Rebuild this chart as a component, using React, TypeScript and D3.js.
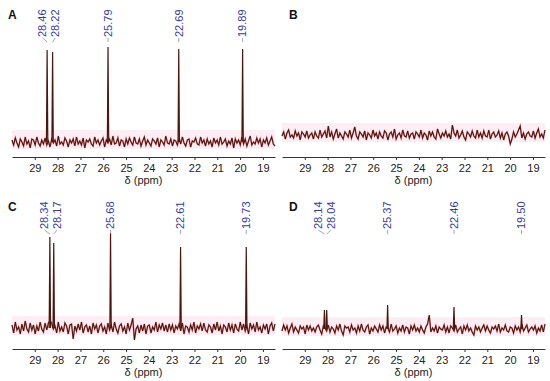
import React, { useEffect, useRef } from 'react';
import * as d3 from 'd3';

const FONT = '"Liberation Sans", Arial, sans-serif';

// chemical shift axis (ppm, reversed as usual for NMR)
const PPM_DOMAIN: [number, number] = [30, 18.47];
const PPM_TICKS = [29, 28, 27, 26, 25, 24, 23, 22, 21, 20, 19];

// labelled peaks: shift (ppm) and apparent height (arbitrary units, 0 = panel A baseline)
const A_SHIFTS = [28.46, 28.22, 25.79, 22.69, 19.89];
const A_HEIGHTS = [92, 90, 95, 93, 93];
const B_SHIFTS: number[] = [];
const B_HEIGHTS: number[] = [];
const C_SHIFTS = [28.34, 28.17, 25.68, 22.61, 19.73];
const C_HEIGHTS = [97, 91, 101, 87, 87];
const D_SHIFTS = [28.14, 28.04, 25.37, 22.46, 19.5];
const D_HEIGHTS = [24, 24, 29, 27, 19];

// baseline level of each spectrum
const BASELINES = [0, 7, 6, 5];

// baseline noise (evenly spaced from 30 to 18.47 ppm)
const A_NOISE = [
  2, -3, 4, -1, -5, 3, 0, -4, 5, -2, 1, -6, 3, 2, -3, 5, -1, -4, 2, -2,
  4, -3, 1, -5, 3, -1, 2, -4, 6, -2, 0, -3, 4, 1, -5, 2, -1, 3, -4, 5,
  -2, 1, -3, 4, -6, 2, 0, 3, -2, -4, 5, -1, 2, -3, 1, 4, -5, 2, -1, 3,
  -3, 6, -2, -1, 4, -4, 2, 1, -5, 3, -2, 4, 0, -3, 5, -1, -2, 3, -4, 1,
  5, -3, 2, -1, -4, 3, 1, -2, 4, -5, 2, 0, -3, 6, -1, -2, 3, -4, 2, 1,
  -3, 4, -2, 5, -1, -4, 2, 3, -5, 1, 0, 4, -2, -3, 5, -1, 2, -4, 3, -2,
  1, -5, 4, -1, 2, -3, 5, -2, 0, 3, -4, 1, -2, 4, -6, 3, -1, 2, -3, 5,
  -2, 3, -4, 1, 6, -3, 0, -2, 4, -1, 3, -5, 2, -1, 4, -3, 1, 5, -2, -4,
];
const B_NOISE = [
  -1, 3, -4, 2, 5, -2, 0, -3, 4, -1, 2, -5, 3, 1, -2, 4, -3, 0, 2, -4,
  3, -1, -3, 5, -2, 1, 4, -3, 9, -2, 3, -4, 1, 6, -3, 2, -1, -4, 3, 1,
  -2, 5, -3, 2, 8, -1, -4, 3, 1, -2, 4, -5, 2, 0, -3, 5, -1, 2, -4, 3,
  -1, -3, 4, 2, -5, 1, 3, -2, 6, -4, 0, 2, -3, 5, -1, -2, 4, -3, 1, 2,
  -4, 3, 1, -2, 5, -3, 2, 0, -5, 4, -1, 3, -2, -4, 6, 1, -3, 2, -1, 4,
  -2, 1, -4, 10, 2, -1, 5, -3, 0, 4, -2, -5, 3, 1, -2, 4, -1, -3, 5, -2,
  2, -3, 4, -1, -2, 5, -4, 1, 3, -2, 0, 4, -3, 2, -5, 1, 3, -1, -9, -4,
  3, -2, 1, 5, 9, -3, 2, -4, 1, 3, -1, -2, 4, -3, 2, 6, -2, 1, -3, 5,
];
const C_NOISE = [
  3, -5, 6, -2, 1, -6, 4, -3, 7, -1, -4, 5, -2, 3, -6, 2, -3, 6, -1, -4,
  5, -2, 5, 7, 5, -1, 2, -5, 6, -3, 1, -4, 5, 2, -6, 3, 4, -11, 2, -3,
  4, -2, 6, -5, 1, 3, -4, 2, -6, 5, -1, 3, -5, 2, 4, -3, 1, -6, 5, -2,
  3, -4, 6, -1, -5, 2, 4, -3, 1, -6, 5, -2, 3, 10, -12, -1, 2, -5, 3, -3,
  4, -6, 2, 3, -5, 1, -2, 6, -4, 3, -1, 5, -3, 3, -4, 4, -2, 3, -5, 2,
  -1, 4, -3, 5, -6, 2, 1, -4, 3, -2, 6, -5, 2, -1, 4, -3, 5, -2, -4, 3,
  1, -5, 4, -2, 6, -3, 2, -6, 3, 1, -4, 5, -2, 3, -5, 4, -1, -3, 6, -2,
  4, -3, 2, -6, 5, -1, 3, -4, 6, -2, 1, -5, 3, -1, 4, -6, 2, 5, -3, 4,
];
const D_NOISE = [
  -2, 4, -1, 3, -4, 1, 5, -3, 2, -1, -4, 3, 0, 2, -5, 4, -1, 3, -2, 1,
  -3, 2, 4, -1, -5, 3, 1, -2, 4, -3, 2, 0, -4, 3, -1, 5, -2, -6, 3, 1,
  2, -3, 4, -1, 1, -4, 3, -2, 5, -1, -3, 2, 4, -5, 1, -2, 3, 0, -3, 4,
  -1, 3, -4, 2, 1, -3, 5, -2, 0, 3, -4, 1, -2, 4, -3, 2, 1, -5, 3, -1,
  4, -2, 1, -3, 3, -1, -4, 2, 5, 14, -3, 1, -2, 3, -4, 2, 0, -1, 4, -3,
  2, -4, 3, 1, -2, 4, -3, 0, 2, -5, 3, -1, 4, -2, 1, -3, -6, 3, -1, 2,
  -3, 1, 4, -2, 3, -1, -4, 2, 0, 3, -2, 5, -3, 1, -1, 4, -2, -3, 2, 1,
  -4, 3, -1, 2, -3, 5, -2, 1, 4, -3, 0, 2, -1, 3, -4, 1, -2, 4, -3, 5,
];

const PANEL_LETTERS = ['A', 'B', 'C', 'D'];

const panels = [
  { letter: PANEL_LETTERS[0], col: 0, row: 0, shifts: A_SHIFTS, heights: A_HEIGHTS, noise: A_NOISE, base: BASELINES[0] },
  { letter: PANEL_LETTERS[1], col: 1, row: 0, shifts: B_SHIFTS, heights: B_HEIGHTS, noise: B_NOISE, base: BASELINES[1] },
  { letter: PANEL_LETTERS[2], col: 0, row: 1, shifts: C_SHIFTS, heights: C_HEIGHTS, noise: C_NOISE, base: BASELINES[2] },
  { letter: PANEL_LETTERS[3], col: 1, row: 1, shifts: D_SHIFTS, heights: D_HEIGHTS, noise: D_NOISE, base: BASELINES[3] },
];

export default function App() {
  const svgRef = useRef<SVGSVGElement>(null);

  useEffect(() => {
    if (!svgRef.current) return;
    const svg = d3.select(svgRef.current);
    svg.selectAll('*').remove();

    const plotW = 263;

    panels.forEach((p) => {
      const x0 = p.col === 0 ? 12 : 282;
      const axisY = p.row === 0 ? 157 : 349;

      const x = d3.scaleLinear().domain(PPM_DOMAIN).range([x0, x0 + plotW]);
      const y = d3.scaleLinear().domain([0, 100]).range([axisY - 15, axisY - 115]);
      const g = svg.append('g');

      // faint pink band behind the baseline
      g.append('rect')
        .attr('x', x0)
        .attr('width', plotW)
        .attr('y', y(p.base + 12))
        .attr('height', y(p.base - 7) - y(p.base + 12))
        .attr('fill', '#fdedf4');

      // noise trace
      const idx = d3.scaleLinear().domain([0, p.noise.length - 1]).range(PPM_DOMAIN);
      const line = d3.line<number>()
        .x((_, i) => x(idx(i)))
        .y((v) => y(p.base + v));

      g.append('path')
        .datum(p.noise)
        .attr('fill', 'none')
        .attr('stroke', '#d3323e')
        .attr('stroke-width', 1.8)
        .attr('opacity', 0.45)
        .attr('d', line);
      g.append('path')
        .datum(p.noise)
        .attr('fill', 'none')
        .attr('stroke', '#45150c')
        .attr('stroke-width', 1.05)
        .attr('d', line);

      // peaks
      const peakLine = d3.line<[number, number]>()
        .x((d) => x(d[0]))
        .y((d) => y(d[1]));
      p.shifts.forEach((s, k) => {
        const pts: [number, number][] = [
          [s + 0.03, p.base],
          [s, p.heights[k]],
          [s - 0.03, p.base],
        ];
        g.append('path')
          .attr('d', peakLine(pts))
          .attr('fill', 'none')
          .attr('stroke', '#4a160e')
          .attr('stroke-width', 1.2);
      });

      // axis
      const ax = g.append('g')
        .attr('transform', `translate(0,${axisY})`)
        .call(
          d3.axisBottom(x)
            .tickValues(PPM_TICKS)
            .tickSize(3)
            .tickSizeOuter(0)
            .tickPadding(4)
            .tickFormat(d3.format('d'))
        );
      ax.select('.domain').attr('stroke', '#333');
      ax.selectAll('.tick line').attr('stroke', '#333');
      ax.selectAll('.tick text')
        .attr('fill', '#222')
        .attr('font-size', 11)
        .attr('font-family', FONT);

      g.append('text')
        .attr('x', x0 + plotW / 2)
        .attr('y', axisY + 27)
        .attr('text-anchor', 'middle')
        .attr('font-size', 11)
        .attr('font-family', FONT)
        .attr('fill', '#222')
        .text('δ (ppm)');

      // panel letter
      g.append('text')
        .attr('x', p.col === 0 ? 8 : 289)
        .attr('y', p.row === 0 ? 19 : 211)
        .attr('font-size', 12)
        .attr('font-weight', 'bold')
        .attr('font-family', FONT)
        .attr('fill', '#111')
        .text(p.letter);

      // peak labels, spread apart where peaks crowd
      const labelBottom = axisY - 120;
      const px = p.shifts.map((s) => x(s));
      const order = d3.range(px.length).sort((a, b) => px[a] - px[b]);
      const lx: number[] = new Array(px.length);
      let i = 0;
      while (i < order.length) {
        let j = i;
        while (j + 1 < order.length && px[order[j + 1]] - px[order[j]] < 11) j++;
        const grp = order.slice(i, j + 1);
        const mean = d3.mean(grp, (k) => px[k]) as number;
        grp.forEach((k, m) => {
          lx[k] = grp.length > 1 ? mean - 1 + (m - (grp.length - 1) / 2) * 12.5 : px[k];
        });
        i = j + 1;
      }

      p.shifts.forEach((s, k) => {
        g.append('line')
          .attr('x1', lx[k])
          .attr('y1', labelBottom + 1)
          .attr('x2', px[k])
          .attr('y2', labelBottom + 5)
          .attr('stroke', '#8a8ab8')
          .attr('stroke-width', 0.8);
        g.append('text')
          .attr('transform', `translate(${lx[k]},${labelBottom}) rotate(-90)`)
          .attr('dy', '0.35em')
          .attr('text-anchor', 'start')
          .attr('font-size', 11)
          .attr('font-family', FONT)
          .attr('fill', '#383d92')
          .text(s.toFixed(2));
      });
    });
  }, []);

  return (
    <svg
      ref={svgRef}
      width={550}
      height={381}
      viewBox="0 0 550 381"
      style={{ position: 'absolute', left: 0, top: 0, background: '#fff' }}
    />
  );
}
